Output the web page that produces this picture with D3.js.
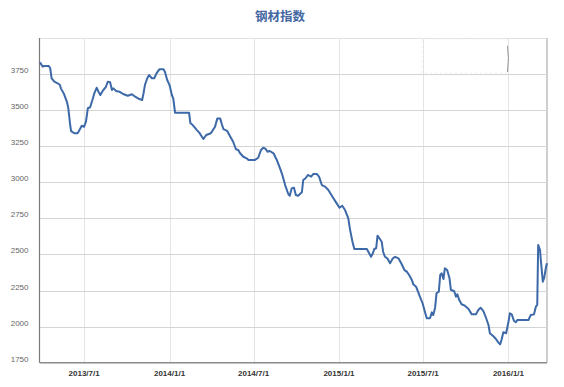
<!DOCTYPE html>
<html>
<head>
<meta charset="utf-8">
<script src="https://cdn.jsdelivr.net/npm/d3@7"></script>
<style>
  body { margin: 0; background: #fff; }
  svg { display: block; font-family: "Liberation Sans", Arial, sans-serif; }
</style>
</head>
<body>
<svg id="chart" width="564" height="387"></svg>
<script>
const dates = [
  "2013-03-28", "2013-04-03", "2013-04-06", "2013-04-16", "2013-04-19", "2013-04-22", "2013-04-28",
  "2013-05-05", "2013-05-10", "2013-05-12", "2013-05-19", "2013-05-25", "2013-05-28", "2013-06-01",
  "2013-06-03", "2013-06-10", "2013-06-17", "2013-06-21", "2013-06-26", "2013-07-01", "2013-07-05",
  "2013-07-09", "2013-07-14", "2013-07-20", "2013-07-23", "2013-07-28", "2013-08-01", "2013-08-05",
  "2013-08-10", "2013-08-17", "2013-08-21", "2013-08-26", "2013-08-30", "2013-09-02", "2013-09-08",
  "2013-09-15", "2013-09-23", "2013-10-03", "2013-10-12", "2013-10-19", "2013-10-28", "2013-11-03",
  "2013-11-06", "2013-11-09", "2013-11-14", "2013-11-18", "2013-11-24", "2013-11-29", "2013-12-04",
  "2013-12-10", "2013-12-19", "2013-12-22", "2013-12-27", "2014-01-01", "2014-01-06", "2014-01-09",
  "2014-01-13", "2014-02-12", "2014-02-15", "2014-02-20", "2014-03-01", "2014-03-06", "2014-03-15",
  "2014-03-21", "2014-03-31", "2014-04-09", "2014-04-14", "2014-04-20", "2014-04-23", "2014-04-27",
  "2014-05-05", "2014-05-11", "2014-05-18", "2014-05-24", "2014-05-29", "2014-06-02", "2014-06-09",
  "2014-06-16", "2014-06-20", "2014-07-04", "2014-07-11", "2014-07-17", "2014-07-22", "2014-07-27",
  "2014-07-31", "2014-08-05", "2014-08-13", "2014-08-20", "2014-08-27", "2014-09-01", "2014-09-07",
  "2014-09-14", "2014-09-17", "2014-09-21", "2014-09-26", "2014-09-30", "2014-10-05", "2014-10-13",
  "2014-10-16", "2014-10-21", "2014-10-26", "2014-11-02", "2014-11-07", "2014-11-14", "2014-11-19",
  "2014-11-25", "2014-12-02", "2014-12-09", "2014-12-18", "2014-12-27", "2015-01-02", "2015-01-08",
  "2015-01-14", "2015-01-21", "2015-01-25", "2015-01-30", "2015-02-03", "2015-03-02", "2015-03-07",
  "2015-03-11", "2015-03-15", "2015-03-18", "2015-03-22", "2015-03-25", "2015-03-29", "2015-04-03",
  "2015-04-06", "2015-04-10", "2015-04-15", "2015-04-21", "2015-04-27", "2015-05-02", "2015-05-09",
  "2015-05-15", "2015-05-22", "2015-05-27", "2015-06-01", "2015-06-07", "2015-06-10", "2015-06-16",
  "2015-06-23", "2015-06-30", "2015-07-05", "2015-07-09", "2015-07-16", "2015-07-20", "2015-07-23",
  "2015-07-27", "2015-07-30", "2015-08-04", "2015-08-07", "2015-08-10", "2015-08-14", "2015-08-17",
  "2015-08-22", "2015-08-27", "2015-08-30", "2015-09-06", "2015-09-10", "2015-09-13", "2015-09-17",
  "2015-09-22", "2015-09-29", "2015-10-07", "2015-10-14", "2015-10-23", "2015-10-28", "2015-11-02",
  "2015-11-08", "2015-11-14", "2015-11-19", "2015-11-22", "2015-11-29", "2015-12-05", "2015-12-10",
  "2015-12-14", "2015-12-17", "2015-12-21", "2015-12-27", "2016-01-01", "2016-01-04", "2016-01-08",
  "2016-01-13", "2016-01-17", "2016-01-20", "2016-02-13", "2016-02-18", "2016-02-25", "2016-02-29",
  "2016-03-03", "2016-03-05", "2016-03-09", "2016-03-11", "2016-03-15", "2016-03-18", "2016-03-22",
  "2016-03-24"
];

const values = [
  3831, 3801, 3806, 3806, 3790, 3721, 3697,
  3686, 3674, 3651, 3610, 3558, 3513, 3397,
  3355, 3340, 3340, 3362, 3392, 3385, 3420,
  3513, 3520, 3582, 3617, 3655, 3628, 3605,
  3633, 3662, 3697, 3693, 3640, 3651, 3633,
  3628, 3612, 3600, 3610, 3593, 3577, 3570,
  3617, 3674, 3721, 3743, 3721, 3721, 3755,
  3783, 3783, 3766, 3709, 3674, 3605, 3582,
  3482, 3482, 3409, 3397, 3362, 3344, 3300,
  3328, 3340, 3385, 3443, 3443, 3409, 3369,
  3357, 3321, 3281, 3229, 3224, 3201, 3177,
  3166, 3155, 3155, 3170, 3224, 3240, 3231,
  3212, 3217, 3201, 3155, 3097, 3051, 2981,
  2917, 2907, 2958, 2963, 2912, 2907, 2931,
  3016, 3028, 3051, 3039, 3058, 3058, 3039,
  2981, 2970, 2947, 2900, 2854, 2824, 2838,
  2808, 2750, 2669, 2588, 2538, 2538, 2508,
  2484, 2508, 2538, 2543, 2630, 2612, 2588,
  2519, 2484, 2473, 2439, 2473, 2484, 2473,
  2439, 2392, 2381, 2358, 2323, 2293, 2277,
  2219, 2162, 2103, 2058, 2058, 2099, 2080,
  2131, 2231, 2242, 2358, 2369, 2330, 2404,
  2392, 2335, 2254, 2247, 2207, 2224, 2184,
  2155, 2145, 2122, 2085, 2085, 2115, 2131,
  2108, 2058, 2011, 1954, 1935, 1914, 1891,
  1877, 1907, 1961, 1954, 2034, 2092, 2085,
  2039, 2030, 2046, 2046, 2080, 2085, 2138,
  2150, 2566, 2531, 2450, 2311, 2339, 2415,
  2439
];

const yTicks = [1750, 2000, 2250, 2500, 2750, 3000, 3250, 3500, 3750];
const xTickLabels = ["2013/7/1", "2014/1/1", "2014/7/1", "2015/1/1", "2015/7/1", "2016/1/1"];
const xDomainDates = ["2013-03-28", "2016-03-24"];
const yDomain = [1750, 4000];
const title = "钢材指数";

const svg = d3.select("#chart");
const width = 564;
const height = 387;
const margin = { top: 38, right: 17, bottom: 24.3, left: 40 };
const innerW = width - margin.left - margin.right;
const innerH = height - margin.top - margin.bottom;

const parseDay = d3.timeParse("%Y-%m-%d");
const parseTick = d3.timeParse("%Y/%-m/%-d");

const data = dates.map((d, i) => ({ date: parseDay(d), value: values[i] }));
const tickDates = xTickLabels.map(parseTick);

const x = d3.scaleTime()
  .domain(xDomainDates.map(parseDay))
  .range([0, innerW]);

const y = d3.scaleLinear()
  .domain(yDomain)
  .range([innerH, 0]);

svg.append("text")
  .attr("x", 280)
  .attr("y", 21)
  .attr("text-anchor", "middle")
  .style("font-family", "'Noto Sans CJK SC', sans-serif")
  .style("font-size", "12.5px")
  .style("font-weight", "bold")
  .style("fill", "#4567a2")
  .text(title);

const g = svg.append("g")
  .attr("transform", `translate(${margin.left}, ${margin.top})`);

// vertical grid
g.append("g")
  .selectAll("line")
  .data(tickDates)
  .enter()
  .append("line")
  .attr("x1", (d) => Math.round(x(d)) + 0.5)
  .attr("x2", (d) => Math.round(x(d)) + 0.5)
  .attr("y1", 0)
  .attr("y2", innerH)
  .attr("stroke", "#e4e4e4")
  .attr("stroke-width", 1);

// horizontal grid
g.append("g")
  .selectAll("line")
  .data(yTicks.concat([yDomain[1]]))
  .enter()
  .append("line")
  .attr("x1", 0)
  .attr("x2", innerW)
  .attr("y1", (d) => Math.round(y(d)) + 0.5)
  .attr("y2", (d) => Math.round(y(d)) + 0.5)
  .attr("stroke", (d) => (d === yDomain[1] ? "#e2e2e2" : "#d4d4d4"))
  .attr("stroke-width", 1.2);

// right border
g.append("line")
  .attr("x1", innerW)
  .attr("x2", innerW)
  .attr("y1", 0)
  .attr("y2", innerH)
  .attr("stroke", "#cfcfcf")
  .attr("stroke-width", 2);

// axis lines
g.append("line")
  .attr("x1", -0.5)
  .attr("x2", -0.5)
  .attr("y1", 0)
  .attr("y2", innerH)
  .attr("stroke", "#7a7a7a")
  .attr("stroke-width", 1.2);

g.append("line")
  .attr("x1", -0.5)
  .attr("x2", innerW)
  .attr("y1", innerH)
  .attr("y2", innerH)
  .attr("stroke", "#8c8c8c")
  .attr("stroke-width", 1.2);

// y labels
g.append("g")
  .selectAll("text")
  .data(yTicks)
  .enter()
  .append("text")
  .attr("x", -11.5)
  .attr("y", (d) => y(d) - 1)
  .attr("text-anchor", "end")
  .style("font-size", "8px")
  .style("fill", "#666")
  .text((d) => d);

// x labels
g.append("g")
  .selectAll("text")
  .data(tickDates)
  .enter()
  .append("text")
  .attr("x", (d) => x(d))
  .attr("y", innerH + 13.5)
  .attr("text-anchor", "middle")
  .style("font-size", "8px")
  .style("font-weight", "bold")
  .style("fill", "#333")
  .text((d, i) => xTickLabels[i]);

// faint leftover tooltip frame
const frame = g.append("g");
frame.append("rect")
  .attr("x", x(tickDates[4]) - 1)
  .attr("y", 1)
  .attr("width", x(tickDates[5]) - x(tickDates[4]))
  .attr("height", 34)
  .attr("fill", "none")
  .attr("stroke", "#f0f0f0")
  .attr("stroke-dasharray", "2,3");
frame.append("path")
  .attr("d", `M${x(tickDates[5]) - 1},8 q2,12 0,26`)
  .attr("fill", "none")
  .attr("stroke", "#8a8a8a")
  .attr("stroke-width", 0.9);

const line = d3.line()
  .x((d) => x(d.date))
  .y((d) => y(d.value));

g.append("path")
  .datum(data)
  .attr("d", line)
  .attr("fill", "none")
  .attr("stroke", "#3d69a8")
  .attr("stroke-width", 2)
  .attr("stroke-linejoin", "round");
</script>
</body>
</html>
